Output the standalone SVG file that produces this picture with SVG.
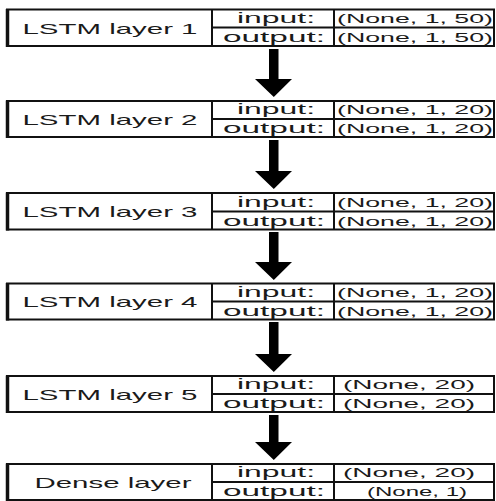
<svg xmlns="http://www.w3.org/2000/svg" width="496" height="501" viewBox="0 0 496 501">
<style>
.box{fill:#fff;stroke:#111;stroke-width:2}
.ln{stroke:#111;stroke-width:2}
.lft{stroke:#111;stroke-width:3.5}
text{font-family:"Liberation Sans",Arial,sans-serif;fill:#1a1a1a;text-anchor:middle}
.nm{font-size:15px}
.io{font-size:14px}
.v{font-size:12.5px}
.arr{fill:#000}
</style>
<rect width="496" height="501" fill="#fff"/>
<g id="connectors">
<path class="arr" d="M269,49 H278.5 V79 H292 L273.8,97 L255,79 H269 Z"/>
<path class="arr" d="M269,140 H278.5 V171 H292 L273.8,189 L255,171 H269 Z"/>
<path class="arr" d="M269,232 H278.5 V262 H292 L273.8,280 L255,262 H269 Z"/>
<path class="arr" d="M269,322 H278.5 V354 H292 L273.8,372 L255,354 H269 Z"/>
<path class="arr" d="M269,415 H278.5 V442 H292 L273.8,460 L255,442 H269 Z"/>
</g>
<g id="lstm1">
<rect class="box" x="7" y="9.5" width="487" height="36.5"/>
<line class="lft" x1="7.5" y1="9" x2="7.5" y2="47"/>
<line class="ln" x1="212" y1="9.5" x2="212" y2="46"/>
<line class="ln" x1="334" y1="9.5" x2="334" y2="46"/>
<line class="ln" x1="212" y1="27.5" x2="494" y2="27.5"/>
<text class="nm" x="110" y="33.5" textLength="175" lengthAdjust="spacingAndGlyphs">LSTM layer 1</text>
<text class="io" x="276" y="22.5" textLength="78" lengthAdjust="spacingAndGlyphs">input:</text>
<text class="io" x="274" y="41.5" textLength="102" lengthAdjust="spacingAndGlyphs">output:</text>
<text class="v" x="415" y="22.5" textLength="156" lengthAdjust="spacingAndGlyphs">(None, 1, 50)</text>
<text class="v" x="415" y="41.5" textLength="156" lengthAdjust="spacingAndGlyphs">(None, 1, 50)</text>
</g>
<g id="lstm2">
<rect class="box" x="7" y="101" width="487" height="36"/>
<line class="lft" x1="7.5" y1="100.5" x2="7.5" y2="138"/>
<line class="ln" x1="212" y1="101" x2="212" y2="137"/>
<line class="ln" x1="334" y1="101" x2="334" y2="137"/>
<line class="ln" x1="212" y1="119" x2="494" y2="119"/>
<text class="nm" x="110" y="124.5" textLength="175" lengthAdjust="spacingAndGlyphs">LSTM layer 2</text>
<text class="io" x="276" y="114" textLength="78" lengthAdjust="spacingAndGlyphs">input:</text>
<text class="io" x="274" y="133" textLength="102" lengthAdjust="spacingAndGlyphs">output:</text>
<text class="v" x="415" y="114" textLength="156" lengthAdjust="spacingAndGlyphs">(None, 1, 20)</text>
<text class="v" x="415" y="133" textLength="156" lengthAdjust="spacingAndGlyphs">(None, 1, 20)</text>
</g>
<g id="lstm3">
<rect class="box" x="7" y="193" width="487" height="36.5"/>
<line class="lft" x1="7.5" y1="192.5" x2="7.5" y2="230.5"/>
<line class="ln" x1="212" y1="193" x2="212" y2="229.5"/>
<line class="ln" x1="334" y1="193" x2="334" y2="229.5"/>
<line class="ln" x1="212" y1="211.5" x2="494" y2="211.5"/>
<text class="nm" x="110" y="217" textLength="175" lengthAdjust="spacingAndGlyphs">LSTM layer 3</text>
<text class="io" x="276" y="206.5" textLength="78" lengthAdjust="spacingAndGlyphs">input:</text>
<text class="io" x="274" y="225.5" textLength="102" lengthAdjust="spacingAndGlyphs">output:</text>
<text class="v" x="415" y="206.5" textLength="156" lengthAdjust="spacingAndGlyphs">(None, 1, 20)</text>
<text class="v" x="415" y="225.5" textLength="156" lengthAdjust="spacingAndGlyphs">(None, 1, 20)</text>
</g>
<g id="lstm4">
<rect class="box" x="7" y="283.5" width="487" height="36"/>
<line class="lft" x1="7.5" y1="283" x2="7.5" y2="320.5"/>
<line class="ln" x1="212" y1="283.5" x2="212" y2="319.5"/>
<line class="ln" x1="334" y1="283.5" x2="334" y2="319.5"/>
<line class="ln" x1="212" y1="301.5" x2="494" y2="301.5"/>
<text class="nm" x="110" y="307" textLength="175" lengthAdjust="spacingAndGlyphs">LSTM layer 4</text>
<text class="io" x="276" y="296.5" textLength="78" lengthAdjust="spacingAndGlyphs">input:</text>
<text class="io" x="274" y="315.5" textLength="102" lengthAdjust="spacingAndGlyphs">output:</text>
<text class="v" x="415" y="296.5" textLength="156" lengthAdjust="spacingAndGlyphs">(None, 1, 20)</text>
<text class="v" x="415" y="315.5" textLength="156" lengthAdjust="spacingAndGlyphs">(None, 1, 20)</text>
</g>
<g id="lstm5">
<rect class="box" x="7" y="376" width="487" height="36"/>
<line class="lft" x1="7.5" y1="375.5" x2="7.5" y2="413"/>
<line class="ln" x1="212" y1="376" x2="212" y2="412"/>
<line class="ln" x1="334" y1="376" x2="334" y2="412"/>
<line class="ln" x1="212" y1="394" x2="494" y2="394"/>
<text class="nm" x="110" y="399.5" textLength="175" lengthAdjust="spacingAndGlyphs">LSTM layer 5</text>
<text class="io" x="276" y="389" textLength="78" lengthAdjust="spacingAndGlyphs">input:</text>
<text class="io" x="274" y="408" textLength="102" lengthAdjust="spacingAndGlyphs">output:</text>
<text class="v" x="409" y="389" textLength="132" lengthAdjust="spacingAndGlyphs">(None, 20)</text>
<text class="v" x="409" y="408" textLength="132" lengthAdjust="spacingAndGlyphs">(None, 20)</text>
</g>
<g id="dense">
<rect class="box" x="7" y="464" width="487" height="36"/>
<line class="lft" x1="7.5" y1="463.5" x2="7.5" y2="501"/>
<line class="ln" x1="212" y1="464" x2="212" y2="500"/>
<line class="ln" x1="334" y1="464" x2="334" y2="500"/>
<line class="ln" x1="212" y1="482" x2="494" y2="482"/>
<text class="nm" x="113" y="487.5" textLength="157" lengthAdjust="spacingAndGlyphs">Dense layer</text>
<text class="io" x="276" y="477" textLength="78" lengthAdjust="spacingAndGlyphs">input:</text>
<text class="io" x="274" y="496" textLength="102" lengthAdjust="spacingAndGlyphs">output:</text>
<text class="v" x="409" y="477" textLength="132" lengthAdjust="spacingAndGlyphs">(None, 20)</text>
<text class="v" x="417" y="496" textLength="100" lengthAdjust="spacingAndGlyphs">(None, 1)</text>
</g>
</svg>
